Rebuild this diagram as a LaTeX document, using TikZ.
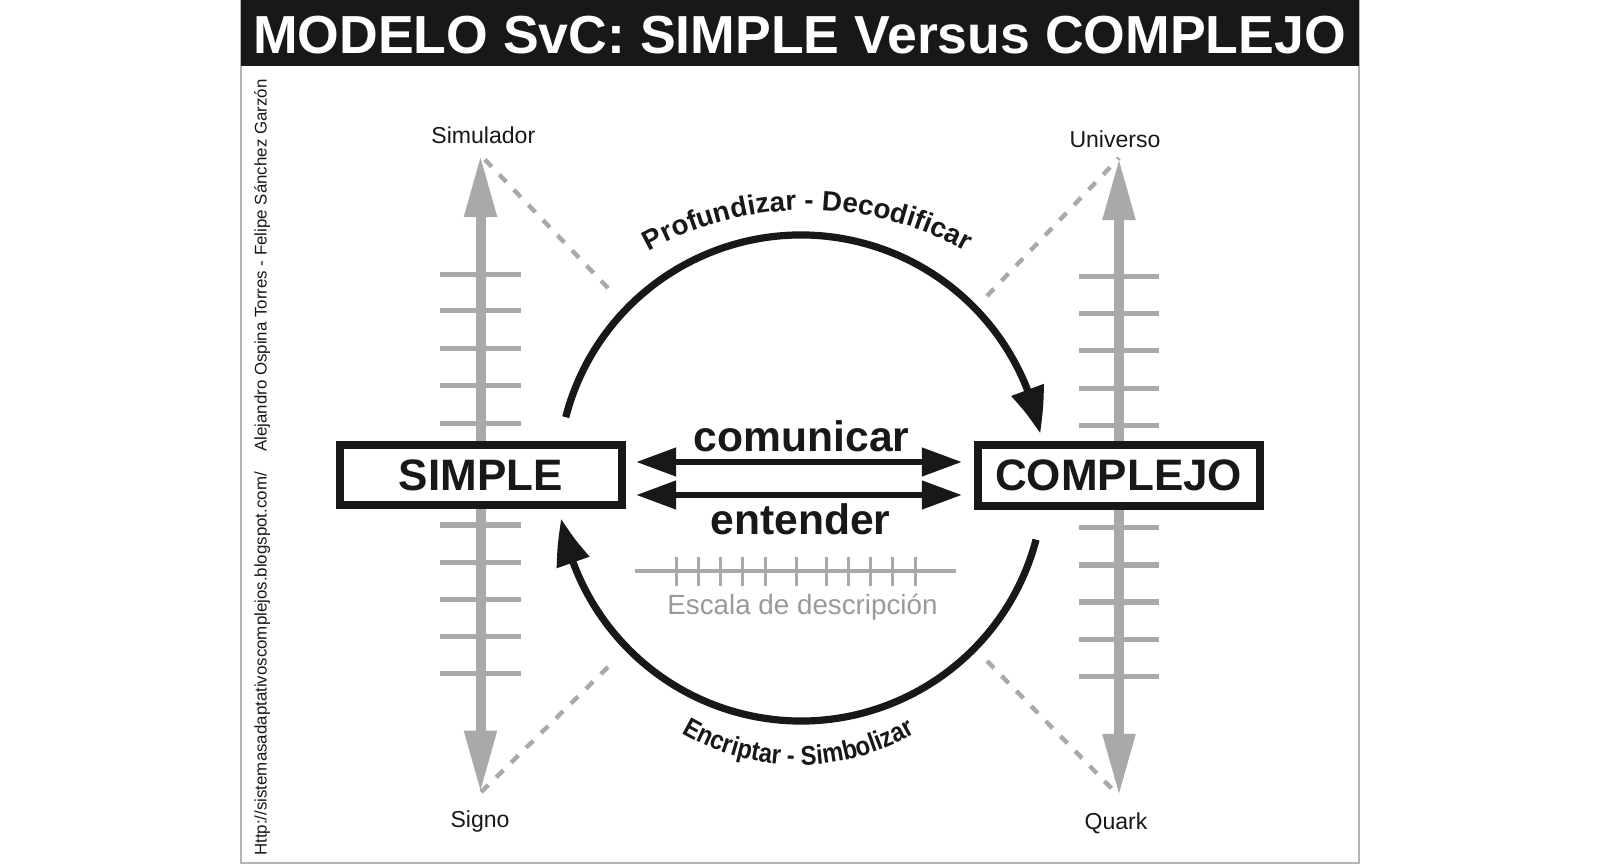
\documentclass[tikz,border=0pt]{standalone}
\usepackage{fontspec}
\setmainfont{Liberation Sans}
\newfontfamily\estrecha[FakeStretch=0.88]{Liberation Sans}
\usetikzlibrary{arrows.meta,bending,decorations.text}
\definecolor{negro}{HTML}{1A1817}
\definecolor{gris}{HTML}{A9A9A9}
\definecolor{grisletra}{HTML}{9A9A9A}
\definecolor{marco}{HTML}{B4B4B4}
\tikzset{
  eje/.style={draw=gris,line width=.25cm,{Triangle[length=1.55cm,width=.76cm]}-{Triangle[length=1.55cm,width=.76cm]}},
  raya/.style={draw=gris,line width=.125cm},
  punteado/.style={draw=gris,line width=.11cm,dash pattern=on .25cm off .275cm},
  caja/.style={draw=negro,fill=white,line width=.2cm,minimum height=1.5cm,text=negro,font=\fontsize{31.3}{36}\selectfont\bfseries},
  ciclo/.style={draw=negro,line width=.18cm,-{Triangle[length=1.15cm,width=.82cm,bend]}},
  doble/.style={draw=negro,line width=.165cm,{Triangle[length=1cm,width=.68cm]}-{Triangle[length=1cm,width=.68cm]}},
  verbo/.style={anchor=base,text=negro,font=\fontsize{30.3}{36}\selectfont\bfseries},
  polo/.style={anchor=base,text=negro,font=\fontsize{16.4}{20}\selectfont},
  lateral/.style={rotate=90,anchor=base west,inner sep=0pt,text=negro,font=\fontsize{12}{15}\selectfont},
}
\begin{document}
\begin{tikzpicture}[x=0.025cm,y=0.025cm]
\useasboundingbox (0,0) rectangle (1600,864);
\fill[white] (0,0) rectangle (1600,864);
\draw[marco,line width=.035cm] (241,1) rectangle (1359,864);
\fill[negro] (241,798) rectangle (1359,864);
\node[anchor=base,text=white,font=\fontsize{38.1}{44}\selectfont\bfseries] (titulo) at (799.5,810.7) {MODELO SvC: SIMPLE Versus COMPLEJO};
\node[lateral] (web) at (266.7,8) {Http://sistemasadaptativoscomplejos.blogspot.com/};
\node[lateral] (autores) at (266.7,412) {Alejandro Ospina Torres - Felipe Sánchez Garzón};
% ejes
\coordinate (tipSim) at (480.5,709);
\coordinate (tipSig) at (480.5,71.3);
\coordinate (tipUni) at (1119,706);
\coordinate (tipQua) at (1119,68);
\coordinate (finSim) at (608,576);
\coordinate (finSig) at (608,197);
\coordinate (finUni) at (987,568);
\coordinate (finQua) at (987,203);
\foreach \y in {589.5,553,515,478,440.5,339,301.7,264.7,227.7,190.7}
  \draw[raya] (440,\y)--(521,\y);
\foreach \y in {587.4,550,513,475,438.4,336.4,299,262,225,188}
  \draw[raya] (1079,\y)--(1159,\y);
\draw[eje] (tipSig)--(tipSim);
\draw[eje] (tipQua)--(tipUni);
\draw[punteado] (finSim)--(tipSim);
\draw[punteado] (finSig)--(tipSig);
\draw[punteado] (finUni)--(tipUni);
\draw[punteado] (finQua)--(tipQua);
\node[polo] (simulador) at (483.3,720.7) {Simulador};
\node[polo] (universo) at (1115,716) {Universo};
\node[polo] (signo) at (480,36.3) {Signo};
\node[polo] (quark) at (1116,35) {Quark};
% cajas
\node[caja,minimum width=7.05cm] (simple) at (480.7,388.7) {SIMPLE};
\node[caja,minimum width=7.04cm] (complejo) at (1118.7,388.5) {COMPLEJO};
% circulo
\coordinate (cen) at (801,386);
\draw[ciclo] ([shift={(165.5:243)}]cen) arc (165.5:10.5:243);
\draw[ciclo] ([shift={(-14.7:243)}]cen) arc (-14.7:-170.4:243);
\path[postaction={decorate,decoration={text along path,text align=center,
  text={|\fontsize{19.8}{24}\selectfont\bfseries\color{negro}|Profundizar - Decodificar}}}]
  (807.5,328)++(122:326) arc (122:58:326);
\path[postaction={decorate,decoration={text along path,text align=center,
  text={|\estrecha\fontsize{19.2}{22}\selectfont\bfseries\color{negro}|Encriptar - Simbolizar}}}]
  (798.5,331)++(205:232) arc (205:335:232);
% flechas centrales
\coordinate (comL) at (636,402);
\coordinate (comR) at (962,402);
\coordinate (entL) at (636,369);
\coordinate (entR) at (962,369);
\draw[doble] (comL)--(comR);
\draw[doble] (entL)--(entR);
\node[verbo] (comunicar) at (801.7,412) {comunicar};
\node[verbo] (entender) at (800.5,330) {entender};
% escala
\coordinate (escL) at (635,293);
\coordinate (escR) at (956,293);
\draw[gris,line width=.075cm] (escL)--(escR);
\foreach \x in {676,698.3,720.3,742.7,765,796.3,826,848,870.3,892.7,915}
  \draw[gris,line width=.075cm] (\x,307)--(\x,278);
\node[anchor=base,text=grisletra,font=\fontsize{19.75}{24}\selectfont] (escala) at (802.5,250) {Escala de descripción};
\end{tikzpicture}
\end{document}
